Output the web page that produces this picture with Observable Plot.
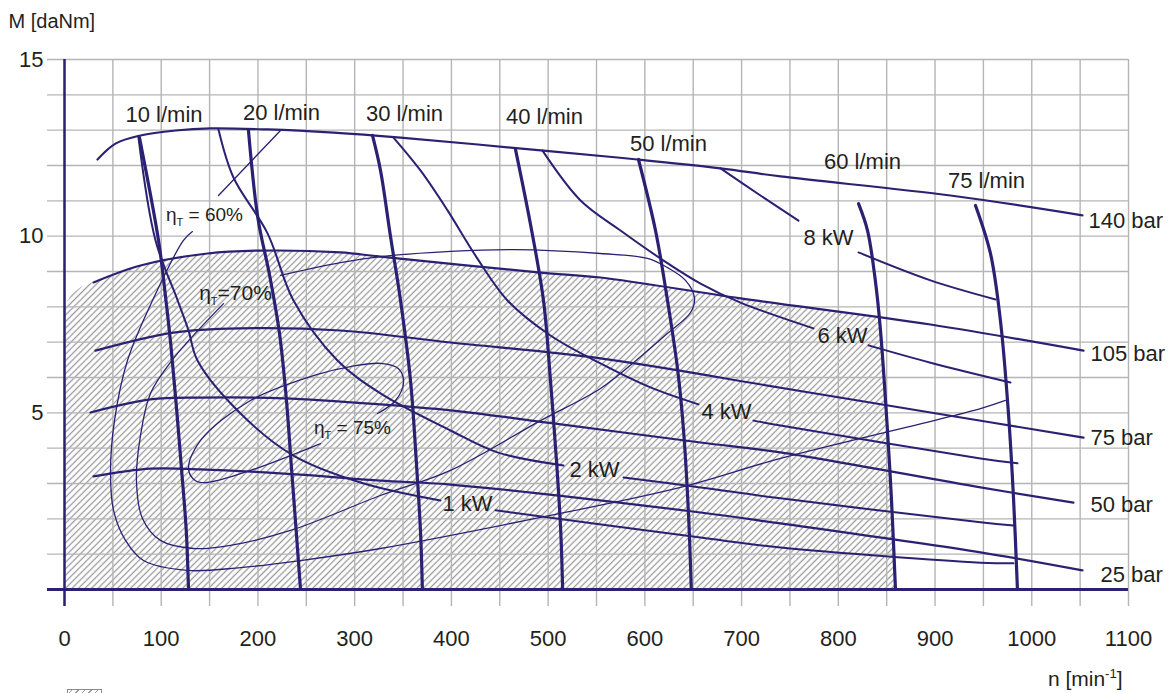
<!DOCTYPE html>
<html><head><meta charset="utf-8">
<script src="https://cdn.jsdelivr.net/npm/d3@7"></script>
<script src="https://cdn.jsdelivr.net/npm/@observablehq/plot@0.6"></script>
<style>
body{margin:0;background:#fff;}
#wrap{position:relative;width:1172px;height:693px;overflow:hidden;background:#fff;}
#legend{position:absolute;left:67px;top:689px;width:35px;height:20px;border:1px solid #8a8a8a;box-sizing:border-box;
background:repeating-linear-gradient(135deg,#fff 0 2.2px,#9a9a9a 2.2px 3.4px,#fff 3.4px 4.6px);}
</style></head>
<body><div id="wrap"><div id="legend"></div></div>
<script>
// ---- axis ticks ----
const xTicks = [0,100,200,300,400,500,600,700,800,900,1000,1100];
const yTicks = [5,10,15];
const xGrid = d3.range(0,1101,50);
const yGrid = d3.range(0,16,1);

// ---- constant pressure curves (n [min-1], M [daNm]) ----
const p140 = [[34.1,12.17],[52.7,12.62],[78.6,12.85],[114.8,12.99],[150.9,13.05],[209.9,13.02],[278.1,12.93],[347.4,12.79],[495.2,12.42],[592.4,12.17],[678.2,11.92],[740.2,11.69],[916.0,11.15],[1052.4,10.59]];
const p105 = [[30.0,8.69],[78.6,9.17],[147.8,9.51],[199.5,9.59],[285.3,9.54],[326.7,9.42],[492.1,8.97],[554.1,8.83],[698.9,8.24],[895.3,7.50],[1053.5,6.76]];
const p75  = [[32.0,6.76],[112.7,7.27],[182.0,7.39],[285.3,7.33],[399.1,6.99],[554.1,6.54],[740.2,5.71],[895.3,5.01],[1053.5,4.30]];
const p50  = [[26.9,5.01],[88.9,5.38],[140.6,5.43],[226.4,5.41],[326.7,5.24],[399.1,5.07],[505.5,4.70],[657.5,4.16],[740.2,3.88],[947.0,2.89],[1043.1,2.46]];
const p25  = [[30.0,3.20],[88.9,3.42],[140.6,3.40],[244.0,3.25],[326.7,3.08],[399.1,2.97],[657.5,2.18],[740.2,1.87],[947.0,1.05],[1052.4,0.54]];

// ---- constant flow curves ----
const f10 = [[77.5,12.79],[97.2,9.88],[104.4,8.3],[110.0,6.9],[115.3,5.3],[121.0,3.4],[125.8,1.7],[128.2,0]];
const f20 = [[190.2,12.99],[200.0,10.5],[212.0,8.9],[222.0,7.3],[229.0,5.5],[234.5,3.5],[239.5,1.67],[244.0,0]];
const f30 = [[318.4,12.85],[326.7,11.86],[337.0,10.0],[347.4,8.18],[357.7,5.92],[364.0,3.5],[368.0,1.67],[370.0,0]];
const f40 = [[466.3,12.45],[482.0,10.3],[495.2,8.18],[502.4,5.92],[509.0,3.5],[513.0,1.67],[515.0,0]];
const f50 = [[593.4,12.17],[611.0,10.16],[623.4,8.18],[634.0,6.2],[640.0,4.5],[645.0,2.2],[648.0,0]];
const f60 = [[820.9,10.92],[830.2,10.16],[838.0,8.8],[843.6,7.33],[850.8,4.5],[855.0,2.52],[859.1,0]];
const f75 = [[941.8,10.87],[957.3,9.51],[967.6,7.61],[975.9,4.98],[981.1,2.60],[985.2,0]];

// ---- constant power curves (split around their labels) ----
const kw1L = [[76.5,12.79],[94.1,9.88],[117.0,8.18],[128.2,7.33],[137.5,6.48],[182.0,4.98],[236.7,3.79],[306.0,3.03],[388.7,2.52]];
const kw1R = [[445.6,2.24],[657.5,1.47],[740.2,1.19],[947.0,0.76],[981.1,0.74]];
const kw2L = [[159.2,13.02],[174.7,11.66],[209.9,10.08],[236.7,8.18],[282.2,6.48],[326.7,5.55],[399.1,4.50],[447.6,3.88],[515.9,3.51]];
const kw2R = [[577.9,3.17],[657.5,2.89],[740.2,2.58],[947.0,1.90],[981.1,1.81]];
const kw4L = [[340.1,12.79],[368.0,11.86],[396.0,10.73],[424.9,9.45],[458.0,8.18],[502.4,7.19],[554.1,6.40],[605.8,5.72],[655.4,5.24]];
const kw4R = [[712.3,4.78],[740.2,4.64],[947.0,3.71],[985.2,3.57]];
const kw6L = [[494.2,12.42],[533.5,11.01],[574.8,10.16],[619.3,9.31],[657.5,8.66],[698.9,8.12],[774.3,7.39]];
const kw6R = [[831.2,6.91],[895.3,6.42],[978.0,5.86]];
const kw8L = [[678.2,11.92],[719.5,11.15],[758.8,10.44]];
const kw8R = [[820.9,9.54],[895.3,8.75],[962.5,8.21]];

// ---- efficiency contours ----
const eta60U = [[223.3,12.99],[159.2,11.15]];
const eta60L = [[132.3,10.13],[123.0,9.88],[91.0,8.18],[65.1,6.48],[51.7,4.78],[47.6,3.37],[50.7,2.24],[63.1,1.39],[81.7,0.82],[127.2,0.54],[182.0,0.62],[244.0,0.82],[326.7,1.16],[492.1,2.04],[636.8,2.89],[740.2,3.71],[947.0,5.12],[972.8,5.35]];
const eta70 = [[223.3,8.89],[285.3,9.25],[326.7,9.42],[399.1,9.57],[464.2,9.62],[554.1,9.51],[602.7,9.37],[623.4,9.11],[642.0,8.75],[651.3,8.26],[647.2,7.84],[623.4,7.25],[595.5,6.59],[554.1,5.69],[492.1,4.78],[399.1,3.37],[326.7,2.66],[233.6,1.67],[171.6,1.25],[133.4,1.16],[99.2,1.39],[80.6,2.01],[74.4,3.08],[78.6,4.36],[88.9,5.55],[112.7,6.54],[164.4,8.09]];
const eta75 = [[323.6,4.98],[342.2,5.35],[350.5,5.86],[345.3,6.25],[326.7,6.40],[295.7,6.31],[261.6,6.09],[192.3,5.35],[140.6,4.22],[128.2,3.42],[135.4,3.08],[147.8,3.03],[192.3,3.37],[264.7,4.13]];

// ---- hatched continuous-operation area (upper edge) ----
const hatchTop = [[0,8.0],[8,8.35],[18,8.56],[30,8.69],[78.6,9.17],[147.8,9.51],[199.5,9.59],[285.3,9.54],[326.7,9.42],[492.1,8.97],[554.1,8.83],[698.9,8.24],[842.2,7.70],[843.6,7.33],[850.8,4.5],[855.0,2.52],[859.1,0]];

// ---- labels ----
const flowText = ["10 l/min","20 l/min","30 l/min","40 l/min","50 l/min","60 l/min","75 l/min"];
const flowX = [102.9,224.3,351.5,496.2,624.4,825.0,953.2];
const flowY = [13.44,13.50,13.47,13.37,12.61,12.09,11.55];
const barText = ["140 bar","105 bar","75 bar","50 bar","25 bar"];
const barX = [1058.7,1060.7,1060.7,1060.7,1071.0];
const barY = [10.44,6.68,4.30,2.38,0.40];
const kwText = ["8 kW","6 kW","4 kW","2 kW","1 kW"];
const kwX = [789.8,804.3,684.4,547.9,416.6];
const kwY = [9.96,7.19,5.02,3.37,2.42];
const etaText = [" = 60%","=70%"," = 75%"];
const etaX = [144.7,176.8,297.7];
const etaY = [10.61,8.38,4.58];
const etaSize = [19,21,19];

// ---- build tables ----
const toRows = (name, pts) => pts.map(([x,y]) => ({name, x, y}));
const pressureRows = [["140",p140],["105",p105],["75",p75],["50",p50],["25",p25]].flatMap(([n,p]) => toRows(n,p));
const flowRows = [["10",f10],["20",f20],["30",f30],["40",f40],["50",f50],["60",f60],["75",f75]].flatMap(([n,p]) => toRows(n,p));
const powerRows = [["1L",kw1L],["1R",kw1R],["2L",kw2L],["2R",kw2R],["4L",kw4L],["4R",kw4R],["6L",kw6L],["6R",kw6R],["8L",kw8L],["8R",kw8R]].flatMap(([n,p]) => toRows(n,p));
const etaRows = [["60U",eta60U],["60L",eta60L],["70",eta70],["75",eta75]].flatMap(([n,p]) => toRows(n,p));
const hatchRows = hatchTop.map(([x,y]) => ({x, y}));
const flowLab = flowText.map((t,i) => ({t, x: flowX[i], y: flowY[i]}));
const barLab = barText.map((t,i) => ({t, x: barX[i], y: barY[i]}));
const kwLab = kwText.map((t,i) => ({t, x: kwX[i], y: kwY[i]}));
const etaLab = etaText.map((t,i) => ({t, x: etaX[i], y: etaY[i], s: etaSize[i]}));

const navy = "#2b2173";
const ink = "#231f20";
const gridC = "#b5b5b5";

const svg = Plot.plot({
  width: 1172, height: 693,
  marginLeft: 64, marginRight: 44, marginTop: 59, marginBottom: 104,
  x: {domain: [0, 1100], label: null},
  y: {domain: [0, 15], label: null},
  style: {fontFamily: "'Liberation Sans', Arial, Helvetica, sans-serif", fontSize: "22px", color: ink, background: "white", overflow: "visible"},
  marks: [
    Plot.areaY(hatchRows, {x: "x", y1: 0, y2: "y", fill: "url(#hatch)", curve: "linear"}),
    Plot.ruleX(xGrid, {y1: -0.48, y2: 15, stroke: gridC, strokeWidth: 1.4}),
    Plot.ruleY(yGrid, {x1: -17.6, x2: 1100, stroke: gridC, strokeWidth: 1.4}),
    Plot.ruleY([0], {x1: -17.6, x2: 1100, stroke: navy, strokeWidth: 3}),
    Plot.ruleX([0], {y1: -0.48, y2: 15, stroke: navy, strokeWidth: 2.5}),
    Plot.axisX({ticks: xTicks, tickSize: 0, tickPadding: 41, tickFormat: d => String(d), fontSize: 22, label: null, fill: ink}),
    Plot.axisY({ticks: yTicks, tickSize: 0, tickPadding: 21, tickFormat: d => String(d), fontSize: 22, label: null, fill: ink}),
    Plot.line(etaRows, {x: "x", y: "y", z: "name", stroke: navy, strokeWidth: 1.3, curve: "catmull-rom"}),
    Plot.line(powerRows, {x: "x", y: "y", z: "name", stroke: navy, strokeWidth: 2, curve: "catmull-rom"}),
    Plot.line(pressureRows, {x: "x", y: "y", z: "name", stroke: navy, strokeWidth: 2.2, curve: "catmull-rom"}),
    Plot.line(flowRows, {x: "x", y: "y", z: "name", stroke: navy, strokeWidth: 3.2, curve: "catmull-rom"}),
    Plot.text(flowLab, {x: "x", y: "y", text: "t", fontSize: 22, fill: ink, textAnchor: "middle", lineAnchor: "middle"}),
    Plot.text(barLab, {x: "x", y: "y", text: "t", fontSize: 22, fill: ink, textAnchor: "start", lineAnchor: "middle"}),
    Plot.text(kwLab, {x: "x", y: "y", text: "t", fontSize: 22, fill: ink, textAnchor: "middle", lineAnchor: "middle"}),
    Plot.text(etaLab, {x: "x", y: "y", text: "t", fontSize: d => d.s, fill: ink, textAnchor: "middle", lineAnchor: "middle", className: "eta"}),
    Plot.text(["M [daNm]"], {frameAnchor: "top-left", text: d => d, textAnchor: "start", lineAnchor: "middle", dx: -56, dy: -38, fontSize: 20, fill: ink}),
    Plot.text(["n [min"], {frameAnchor: "bottom-right", text: d => d, textAnchor: "end", lineAnchor: "middle", dx: -6, dy: 90, fontSize: 21, fill: ink, className: "ntitle"})
  ]
});

const s = d3.select(svg);
s.insert("defs", ":first-child").html(
  '<pattern id="hatch" patternUnits="userSpaceOnUse" width="4.6" height="4.6" patternTransform="rotate(45)">' +
  '<rect width="4.6" height="4.6" fill="white"/>' +
  '<line x1="2.3" y1="0" x2="2.3" y2="4.6" stroke="#9a9a9a" stroke-width="1.3"/></pattern>'
);
s.selectAll("g.eta text").each(function() {
  const rest = this.textContent;
  const t = d3.select(this);
  t.text("");
  t.append("tspan").text("η");
  t.append("tspan").attr("font-size", "11px").attr("dy", 5).text("T");
  t.append("tspan").attr("dy", -5).text(rest);
});
s.selectAll("g.ntitle text").each(function() {
  const t = d3.select(this);
  t.append("tspan").attr("font-size", "13px").attr("dy", -8).text("-1");
  t.append("tspan").attr("dy", 8).text("]");
});
document.getElementById("wrap").prepend(svg);
</script>
</body></html>
